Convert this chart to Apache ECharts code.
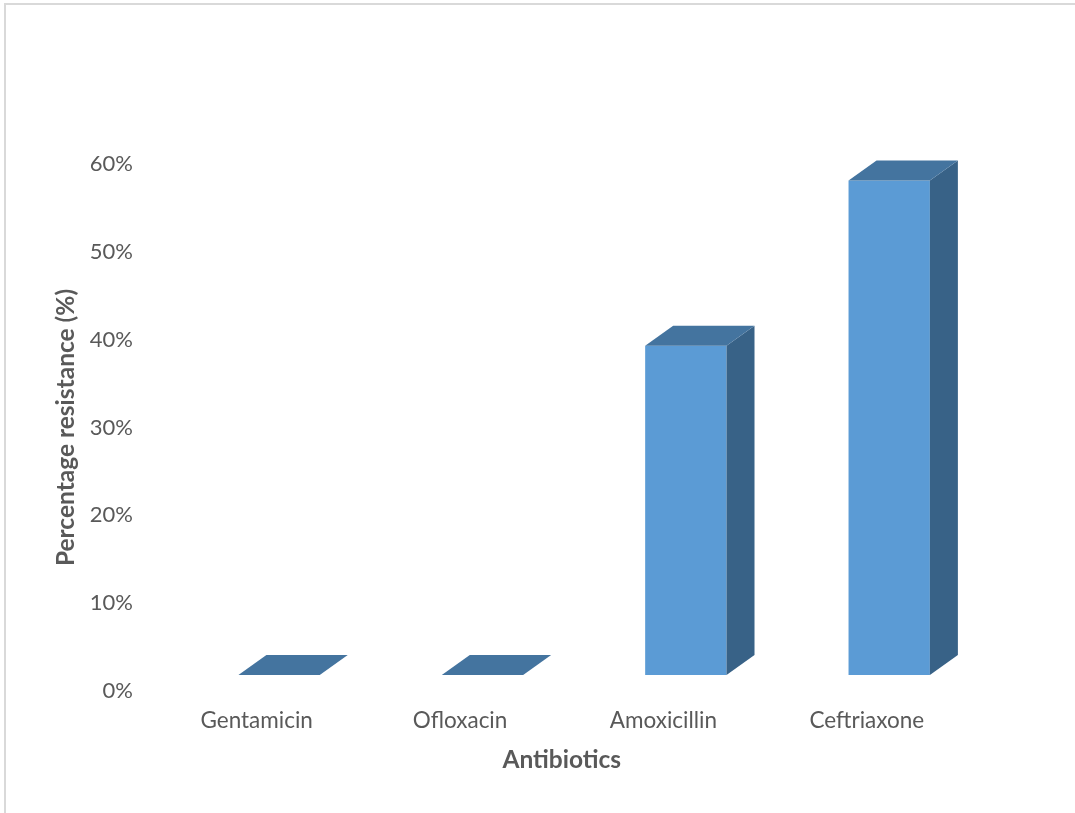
<!DOCTYPE html>
<html>
<head>
<meta charset="utf-8">
<script src="https://cdn.jsdelivr.net/npm/echarts@6/dist/echarts.min.js"></script>
<style>
  html, body { margin: 0; padding: 0; background: #fff; }
  #frame {
    position: absolute; left: 4px; top: 3px; width: 1071px; height: 810px;
    border-top: 2px solid #d9d9d9; border-left: 2px solid #d9d9d9;
  }
  #chart { position: absolute; left: 0; top: 0; width: 1075px; height: 813px; }
</style>
</head>
<body>
<div id="frame"></div>
<div id="chart"></div>
<script>
// 抗生素类别
const antibiotics = ['Gentamicin', 'Ofloxacin', 'Amoxicillin', 'Ceftriaxone'];
// 耐药百分比
const resistance = [0, 0, 37.5, 56.3];
// 纵轴刻度
const yTicks = [0, 10, 20, 30, 40, 50, 60];

const FONT = 'Lato';
const TEXT_GRAY = '#595959';

// 伪 3D 柱子：正面 + 顶面 + 侧面
function renderBar(params, api) {
  const base = api.coord([api.value(0), 0]);
  const top = api.coord([api.value(0), api.value(1)]);
  const w = api.size([1, 0])[0] * 0.4;
  const ox = 22.4, oy = -16;   // 柱子相对地板前沿的深度偏移
  const dx = 28, dy = -20;     // 柱子自身厚度
  const x0 = base[0] + ox - w / 2;
  const x1 = x0 + w;
  const yb = base[1] + oy;
  const yt = top[1] + oy;
  const children = [];
  if (yb - yt > 0.5) {
    children.push({
      type: 'polygon',
      shape: { points: [[x0, yt], [x1, yt], [x1, yb], [x0, yb]] },
      style: { fill: '#5B9BD5' }
    });
    children.push({
      type: 'polygon',
      shape: { points: [[x1, yt], [x1, yb], [x1 + dx, yb + dy], [x1 + dx, yt + dy]] },
      style: { fill: '#386287' }
    });
  }
  children.push({
    type: 'polygon',
    shape: { points: [[x0, yt], [x1, yt], [x1 + dx, yt + dy], [x0 + dx, yt + dy]] },
    style: { fill: '#44749F' }
  });
  return { type: 'group', children };
}

const chart = echarts.init(document.getElementById('chart'));
chart.setOption({
  animation: false,
  backgroundColor: 'transparent',
  grid: { left: 155, right: 106.5, top: 164, bottom: 122 },
  xAxis: {
    type: 'category',
    data: antibiotics,
    name: 'Antibiotics',
    nameLocation: 'middle',
    nameGap: 57,
    nameTextStyle: { fontFamily: FONT, fontWeight: 'bold', fontSize: 24.5, color: TEXT_GRAY },
    axisLine: { show: false },
    axisTick: { show: false },
    axisLabel: { fontFamily: FONT, fontSize: 22.5, color: TEXT_GRAY, margin: 18 }
  },
  yAxis: {
    type: 'value',
    min: yTicks[0],
    max: yTicks[yTicks.length - 1],
    interval: 10,
    name: 'Percentage resistance (%)',
    nameLocation: 'middle',
    nameGap: 75,
    nameRotate: 90,
    nameTextStyle: { fontFamily: FONT, fontWeight: 'bold', fontSize: 24.5, color: TEXT_GRAY },
    axisLine: { show: false },
    axisTick: { show: false },
    splitLine: { show: false },
    axisLabel: { fontFamily: FONT, fontSize: 22, color: TEXT_GRAY, margin: 22, formatter: '{value}%' }
  },
  series: [{
    type: 'custom',
    renderItem: renderBar,
    encode: { x: 0, y: 1 },
    data: antibiotics.map((name, i) => [i, resistance[i]])
  }]
});
</script>
</body>
</html>
